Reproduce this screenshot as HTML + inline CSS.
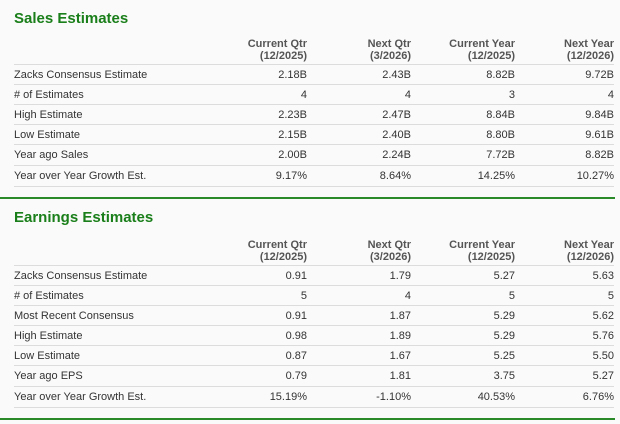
<!DOCTYPE html>
<html><head><style>
body{margin:0;width:620px;height:424px;background:#fafafa;font-family:"Liberation Sans",Arial,sans-serif;color:#333;position:relative;overflow:hidden}
.t{position:absolute;left:14px;font-size:15px;font-weight:bold;color:#1a7f1a}
.r{position:absolute;left:14px;width:600px;height:20px;border-top:1px solid #dcdcdc;font-size:11px;line-height:20px}
.r span{position:absolute;text-align:right;width:100px}
.h{position:absolute;left:14px;width:600px;font-size:11px;line-height:12px;color:#555;font-weight:bold}
.h span{position:absolute;text-align:right;width:100px;top:0}
.c1{left:193px}.c2{left:297px}.c3{left:401px}.c4{left:500px}
.g{position:absolute;left:0;width:615px;height:2px;background:#2a8a2a}
</style></head><body>
<div class="t" style="top:10px">Sales Estimates</div>
<div class="h" style="top:38px"><span class="c1">Current Qtr<br>(12/2025)</span><span class="c2">Next Qtr<br>(3/2026)</span><span class="c3">Current Year<br>(12/2025)</span><span class="c4">Next Year<br>(12/2026)</span></div>
<div class="r" style="top:64px">Zacks Consensus Estimate<span class="c1">2.18B</span><span class="c2">2.43B</span><span class="c3">8.82B</span><span class="c4">9.72B</span></div>
<div class="r" style="top:84px"># of Estimates<span class="c1">4</span><span class="c2">4</span><span class="c3">3</span><span class="c4">4</span></div>
<div class="r" style="top:104px">High Estimate<span class="c1">2.23B</span><span class="c2">2.47B</span><span class="c3">8.84B</span><span class="c4">9.84B</span></div>
<div class="r" style="top:124px">Low Estimate<span class="c1">2.15B</span><span class="c2">2.40B</span><span class="c3">8.80B</span><span class="c4">9.61B</span></div>
<div class="r" style="top:144px">Year ago Sales<span class="c1">2.00B</span><span class="c2">2.24B</span><span class="c3">7.72B</span><span class="c4">8.82B</span></div>
<div class="r" style="top:165px;border-bottom:1px solid #dcdcdc">Year over Year Growth Est.<span class="c1">9.17%</span><span class="c2">8.64%</span><span class="c3">14.25%</span><span class="c4">10.27%</span></div>
<div class="g" style="top:197px"></div>
<div class="t" style="top:209px">Earnings Estimates</div>
<div class="h" style="top:239px"><span class="c1">Current Qtr<br>(12/2025)</span><span class="c2">Next Qtr<br>(3/2026)</span><span class="c3">Current Year<br>(12/2025)</span><span class="c4">Next Year<br>(12/2026)</span></div>
<div class="r" style="top:265px">Zacks Consensus Estimate<span class="c1">0.91</span><span class="c2">1.79</span><span class="c3">5.27</span><span class="c4">5.63</span></div>
<div class="r" style="top:285px"># of Estimates<span class="c1">5</span><span class="c2">4</span><span class="c3">5</span><span class="c4">5</span></div>
<div class="r" style="top:305px">Most Recent Consensus<span class="c1">0.91</span><span class="c2">1.87</span><span class="c3">5.29</span><span class="c4">5.62</span></div>
<div class="r" style="top:325px">High Estimate<span class="c1">0.98</span><span class="c2">1.89</span><span class="c3">5.29</span><span class="c4">5.76</span></div>
<div class="r" style="top:345px">Low Estimate<span class="c1">0.87</span><span class="c2">1.67</span><span class="c3">5.25</span><span class="c4">5.50</span></div>
<div class="r" style="top:365px">Year ago EPS<span class="c1">0.79</span><span class="c2">1.81</span><span class="c3">3.75</span><span class="c4">5.27</span></div>
<div class="r" style="top:386px;border-bottom:1px solid #dcdcdc">Year over Year Growth Est.<span class="c1">15.19%</span><span class="c2">-1.10%</span><span class="c3">40.53%</span><span class="c4">6.76%</span></div>
<div class="g" style="top:418px"></div>
</body></html>
